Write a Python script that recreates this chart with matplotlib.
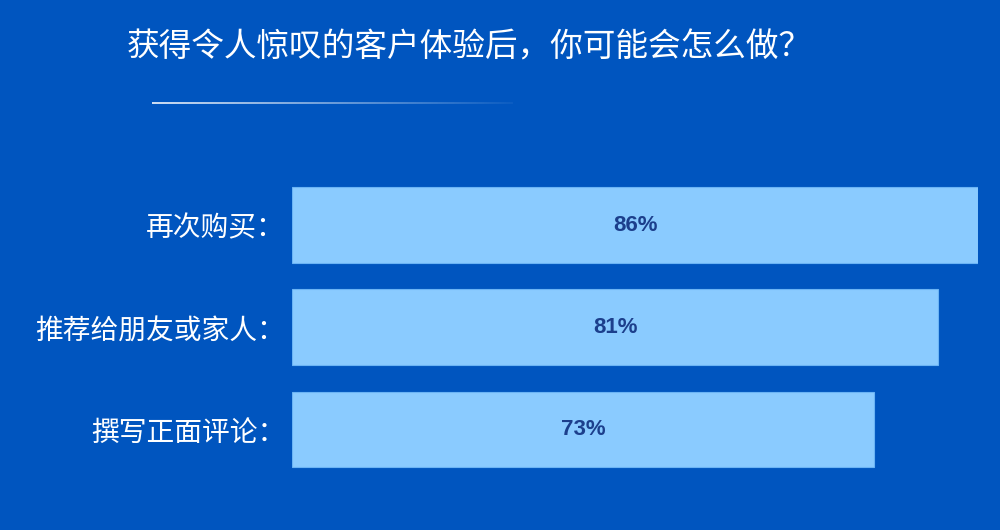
import matplotlib.pyplot as plt
import numpy as np

plt.rcParams['font.family'] = ['Noto Sans CJK SC', 'DejaVu Sans']

title = '获得令人惊叹的客户体验后，你可能会怎么做？'
categories = ['再次购买：', '推荐给朋友或家人：', '撰写正面评论：']
values = [86, 81, 73]

bg = '#0055bf'
bar_color = '#8acbff'
text_dark = '#1c3f8c'

fig = plt.figure(figsize=(10, 5.3), dpi=100)
fig.patch.set_facecolor(bg)

ax = fig.add_axes([0.292, 0.0932, 0.686, 0.5785])
ax.set_facecolor(bg)
y = np.arange(len(categories))
ax.barh(y, values, height=0.74, color=bar_color, edgecolor='#6bb4f5', linewidth=0.8)
ax.set_xlim(0, 86)
ax.set_ylim(len(categories) - 0.5, -0.5)
for i, v in enumerate(values):
    ax.text(v / 2, i, f'{v}%', ha='center', va='center', color=text_dark,
            fontsize=16, fontweight='bold', family=['Liberation Sans', 'DejaVu Sans'])
ax.set_yticks(y)
ax.set_yticklabels(categories, color='white', fontsize=20)
ax.tick_params(axis='y', length=0, pad=5)
ax.set_xticks([])
for s in ax.spines.values():
    s.set_visible(False)

fig.text(0.127, 1 - 47 / 530, title, color='white', fontsize=23.5, ha='left', va='center')

# fading line under the title
lax = fig.add_axes([0.152, 1 - 104 / 530, 0.361, 2 / 530])
grad = np.zeros((1, 256, 4))
grad[0, :, :3] = 1.0
grad[0, :, 3] = np.linspace(0.8, 0.05, 256)
lax.imshow(grad, aspect='auto', interpolation='bilinear')
lax.axis('off')

fig.savefig('out.png', dpi=100, facecolor=bg)
